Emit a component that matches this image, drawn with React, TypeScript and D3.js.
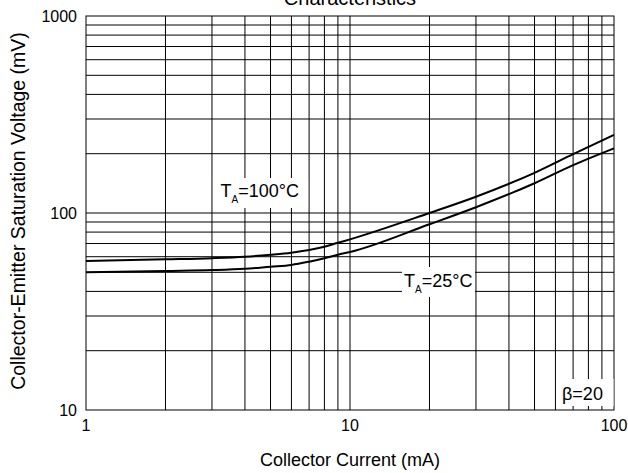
import { useEffect, useRef } from "react";
import * as d3 from "d3";

// collector current (mA) sample points
const currentMA = [1, 2, 3, 4, 5, 6, 7, 8, 9, 10, 20, 30, 50, 70, 100];
// saturation voltage (mV) at TA = 100°C
const vce100 = [57, 58.2, 59, 60, 61.4, 62.9, 64.9, 67.4, 70.6, 73.5, 100, 121, 160, 199, 249];
// saturation voltage (mV) at TA = 25°C
const vce25 = [50, 50.8, 51.3, 52.1, 53.4, 54.5, 56.6, 58.9, 61.4, 63.4, 87.7, 107, 141.6, 175, 213];

const xTickLabels = [1, 10, 100];
const yTickLabels = [10, 100, 1000];

const W = 628;
const H = 473;
const margin = { top: 16, right: 14, bottom: 63, left: 86 };
const FONT = "Arial, 'Liberation Sans', Helvetica, sans-serif";

export default function App() {
  const svgRef = useRef<SVGSVGElement | null>(null);

  useEffect(() => {
    if (!svgRef.current) return;
    const svg = d3.select(svgRef.current);
    svg.selectAll("*").remove();

    const x = d3.scaleLog().domain([1, 100]).range([margin.left, W - margin.right]);
    const y = d3.scaleLog().domain([10, 1000]).range([H - margin.bottom, margin.top]);

    const g = svg.append("g");

    // minor + major grid
    const xGrid: number[] = [];
    const yGrid: number[] = [];
    for (const dec of [1, 10]) for (let k = 2; k <= 9; k++) xGrid.push(dec * k);
    xGrid.push(10);
    for (const dec of [10, 100]) for (let k = 2; k <= 9; k++) yGrid.push(dec * k);
    yGrid.push(100);

    g.selectAll(".vg")
      .data(xGrid)
      .enter()
      .append("line")
      .attr("x1", (d) => x(d))
      .attr("x2", (d) => x(d))
      .attr("y1", y(10))
      .attr("y2", y(1000))
      .attr("stroke", "#000")
      .attr("stroke-width", 1);

    g.selectAll(".hg")
      .data(yGrid)
      .enter()
      .append("line")
      .attr("x1", x(1))
      .attr("x2", x(100))
      .attr("y1", (d) => y(d))
      .attr("y2", (d) => y(d))
      .attr("stroke", "#000")
      .attr("stroke-width", 1);

    // frame
    g.append("rect")
      .attr("x", x(1))
      .attr("y", y(1000))
      .attr("width", x(100) - x(1))
      .attr("height", y(10) - y(1000))
      .attr("fill", "none")
      .attr("stroke", "#000")
      .attr("stroke-width", 1);

    // curves
    const line = d3
      .line<number>()
      .x((_, i) => x(currentMA[i]))
      .y((d) => y(d))
      .curve(d3.curveMonotoneX);

    for (const s of [vce100, vce25]) {
      g.append("path")
        .attr("d", line(s))
        .attr("fill", "none")
        .attr("stroke", "#000")
        .attr("stroke-width", 2);
    }

    // annotation boxes
    const tempLabel = (bx0: number, bx1: number, by0: number, by1: number, tx: number, ty: number, val: string) => {
      g.append("rect")
        .attr("x", bx0)
        .attr("y", by0)
        .attr("width", bx1 - bx0)
        .attr("height", by1 - by0)
        .attr("fill", "#fff");
      const t = g
        .append("text")
        .attr("x", tx)
        .attr("y", ty)
        .attr("font-family", FONT)
        .attr("font-size", 18)
        .attr("fill", "#000");
      t.append("tspan").text("T");
      t.append("tspan").attr("font-size", 10).attr("dy", 6).text("A");
      t.append("tspan").attr("dy", -6).text(val);
    };
    tempLabel(x(3) + 1, x(7) - 1, 178, 208, 220.5, 197, "=100°C");
    tempLabel(402, 475, 267, 297, 404, 287, "=25°C");

    g.append("rect")
      .attr("x", 556)
      .attr("y", 379)
      .attr("width", x(100) - 556 - 0.5)
      .attr("height", 27)
      .attr("fill", "#fff");
    g.append("text")
      .attr("x", 562)
      .attr("y", 400)
      .attr("font-family", FONT)
      .attr("font-size", 18)
      .text("β=20");

    // tick labels
    g.selectAll(".xt")
      .data(xTickLabels)
      .enter()
      .append("text")
      .attr("x", (d) => x(d))
      .attr("y", 431)
      .attr("text-anchor", "middle")
      .attr("font-family", FONT)
      .attr("font-size", 16)
      .text((d) => String(d));

    g.selectAll(".yt")
      .data(yTickLabels)
      .enter()
      .append("text")
      .attr("x", 77)
      .attr("y", (d) => y(d))
      .attr("dy", "0.35em")
      .attr("text-anchor", "end")
      .attr("font-family", FONT)
      .attr("font-size", 16)
      .text((d) => String(d));

    // axis titles
    g.append("text")
      .attr("x", x(10))
      .attr("y", 466)
      .attr("text-anchor", "middle")
      .attr("font-family", FONT)
      .attr("font-size", 18)
      .text("Collector Current (mA)");

    g.append("text")
      .attr("transform", `translate(25, ${y(100) - 2}) rotate(-90)`)
      .attr("text-anchor", "middle")
      .attr("font-family", FONT)
      .attr("font-size", 19.5)
      .text("Collector-Emitter Saturation Voltage (mV)");

    // chart title (first line is off the top of the picture)
    g.append("text")
      .attr("x", x(10))
      .attr("y", 5)
      .attr("text-anchor", "middle")
      .attr("font-family", FONT)
      .attr("font-size", 20)
      .text("Characteristics");
  }, []);

  return (
    <div style={{ position: "absolute", left: 0, top: 0, background: "#fff" }}>
      <svg ref={svgRef} width={W} height={H} style={{ display: "block" }} />
    </div>
  );
}
